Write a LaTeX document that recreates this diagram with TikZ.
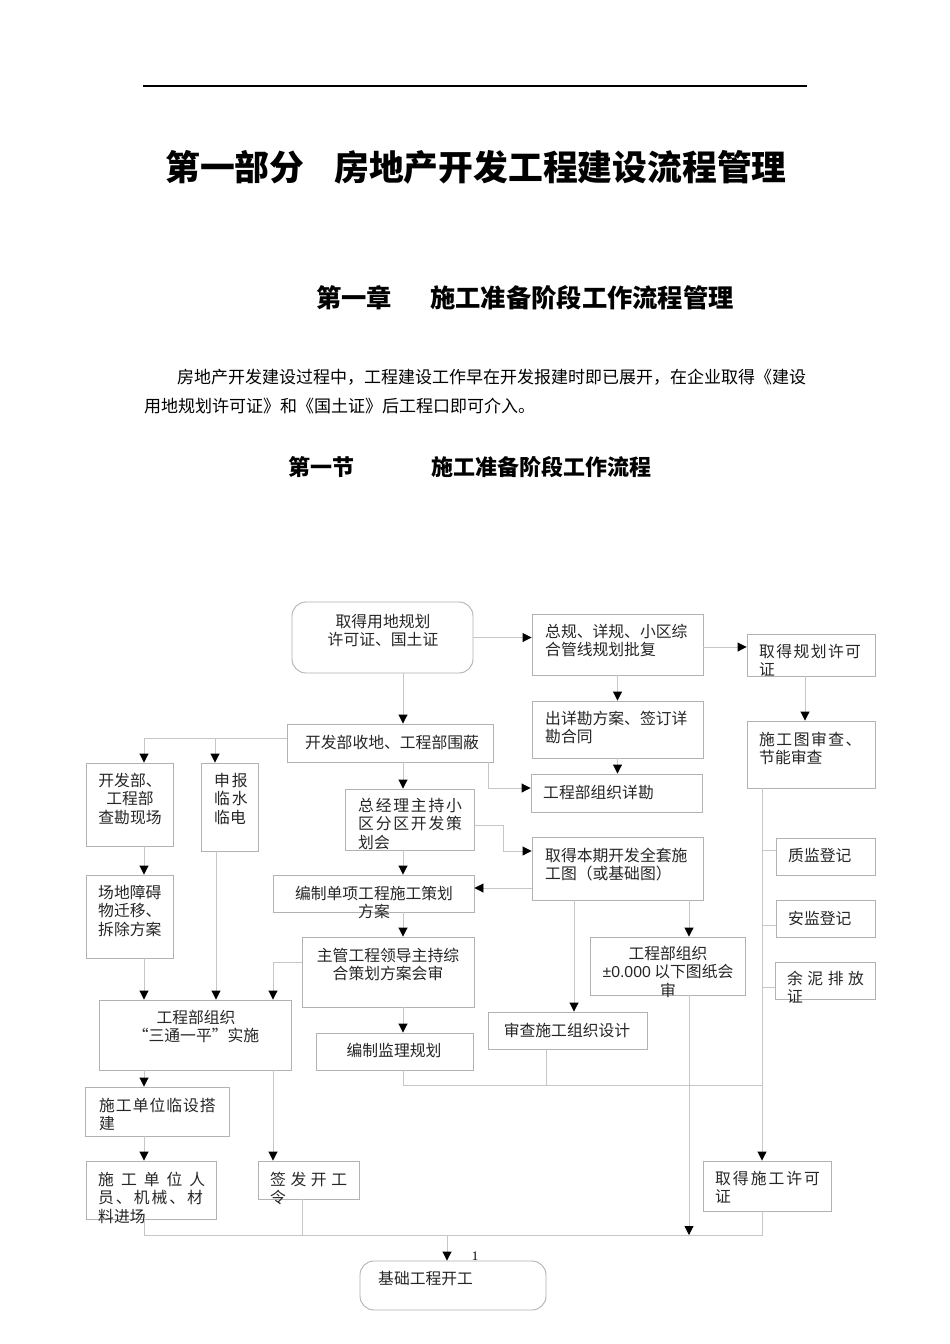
\documentclass[tikz,border=0pt]{standalone}
\usepackage{fontspec}
\setmainfont{Noto Sans CJK SC}
\newfontfamily\serifnum{Liberation Serif}
\newfontfamily\latsans{Liberation Sans}
\usetikzlibrary{arrows.meta,fit}
\newcommand\lsp[2]{\def\lspgap{\hspace*{#1}}\lsprun#2\relax}
\def\lsprun#1{#1\lsplook}
\def\lsplook#1{\ifx#1\relax\let\lspnext\relax\else\def\lspnext{\lspgap\lsprun#1}\fi\lspnext}
\tikzset{
  box/.style={draw=gray!60, line width=0.9pt, inner sep=0pt},
  rbox/.style={box, rounded corners=14pt},
  con/.style={draw=gray!45, line width=0.9pt},
  arr/.style={con, -{Triangle[width=9pt,length=9pt,color=black]}},
  ft/.style={font=\fontsize{15.8}{18.3}\selectfont, text=black!85, inner sep=0pt},
  tl/.style={ft, anchor=north west, align=left},
  tc/.style={ft, anchor=north, align=center},
  head/.style={font=\bfseries, inner sep=0pt, anchor=west},
}
\begin{document}
\begin{tikzpicture}[x=1pt,y=-1pt]
\useasboundingbox (0,0) rectangle (950,1344);
\fill[white] (0,0) rectangle (950,1344);
% header
\draw[line width=1.4pt] (143,86) -- (807,86);
\node[head, font=\bfseries\fontsize{34.8}{40}\selectfont] (title) at (165,167) {第一部分\hspace{30pt}房地产开发工程建设流程管理};
\node[head, font=\bfseries\fontsize{25.3}{30}\selectfont] (ch1) at (316,298) {第一章};
\node[head, font=\bfseries\fontsize{25.3}{30}\selectfont] (ch2) at (430,298) {施工准备阶段工作流程管理};
\node[inner sep=0pt, anchor=west, font=\fontsize{17}{20}\selectfont] (p1) at (177,377) {房地产开发建设过程中，工程建设工作早在开发报建时即已展开，在企业取得《建设};
\node[inner sep=0pt, anchor=west, font=\fontsize{17}{20}\selectfont] (p2) at (144,406) {用地规划许可证》和《国土证》后工程口即可介入。};
\node[head, font=\bfseries\fontsize{22}{26}\selectfont] (s1) at (288,467) {第一节};
\node[head, font=\bfseries\fontsize{22}{26}\selectfont] (s2) at (431,467) {施工准备阶段工作流程};
% boxes
\node[rbox, fit={(292,602) (473,673)}] (A) {};
\node[tc] (tA) at (383,614) {取得用地规划\\许可证、国土证};
\node[box, fit={(532,614) (703,675)}] (B) {};
\node[tl] (tB) at (545,624) {总规、详规、小区综\\合管线规划批复};
\node[box, fit={(747,634) (875,676)}] (C) {};
\node[tl] (tC) at (759,644) {\lsp{1.4pt}{取得规划许可}\\证};
\node[box, fit={(287,724) (493,762)}] (D) {};
\node[ft] (tD) at (392,742) {开发部收地、工程部围蔽};
\node[box, fit={(532,701) (703,758)}] (E) {};
\node[tl] (tE) at (545,711) {出详勘方案、签订详\\勘合同};
\node[box, fit={(747,721) (875,788)}] (F) {};
\node[tl] (tF) at (759,732) {\lsp{1.5pt}{施工图审查、}\\节能审查};
\node[box, fit={(531,774) (702,812)}] (G) {};
\node[ft, anchor=west] (tG) at (543,792) {工程部组织详勘};
\node[box, fit={(86,763) (173,846)}] (H) {};
\node[tc] (tH) at (130,773) {开发部、\\工程部\\查勘现场};
\node[box, fit={(201,763) (258,851)}] (I) {};
\node[tl] (tI) at (214,773) {\lsp{2pt}{申报}\\\lsp{2pt}{临水}\\临电};
\node[box, fit={(345,789) (474,850)}] (J) {};
\node[tl] (tJ) at (358,798) {\lsp{1.8pt}{总经理主持小}\\\lsp{1.8pt}{区分区开发策}\\划会};
\node[box, fit={(532,837) (703,900)}] (K) {};
\node[tl] (tK) at (545,848) {取得本期开发全套施\\工图（或基础图）};
\node[box, fit={(776,838) (875,875)}] (L) {};
\node[ft, anchor=west] (tL) at (788,855) {质监登记};
\node[box, fit={(86,875) (173,958)}] (M) {};
\node[tl] (tM) at (98,885) {场地障碍\\物迁移、\\拆除方案};
\node[box, fit={(273,875) (474,912)}] (N) {};
\node[tc] (tN) at (374,886) {编制单项工程施工策划\\方案};
\node[box, fit={(776,900) (875,937)}] (O) {};
\node[ft, anchor=west] (tO) at (788,918) {安监登记};
\node[box, fit={(590,937) (745,995)}] (P) {};
\node[tc] (tP) at (668,946) {工程部组织\\{\latsans ±0.000} 以下图纸会\\审};
\node[box, fit={(302,937) (474,1007)}] (Q) {};
\node[tc] (tQ) at (388,948) {主管工程领导主持综\\合策划方案会审};
\node[box, fit={(775,962) (875,999)}] (R) {};
\node[tl] (tR) at (787,971) {\lsp{4.5pt}{余泥排放}\\证};
\node[box, fit={(99,1000) (291,1070)}] (S) {};
\node[tc] (tS) at (196,1010) {工程部组织\\“三通一平”实施};
\node[box, fit={(488,1012) (647,1049)}] (T) {};
\node[ft] (tT) at (567,1030) {审查施工组织设计};
\node[box, fit={(316,1033) (473,1070)}] (U) {};
\node[ft] (tU) at (394,1050) {编制监理规划};
\node[box, fit={(85,1087) (229,1136)}] (V) {};
\node[tl] (tV) at (99,1098) {\lsp{1pt}{施工单位临设搭}\\建};
\node[box, fit={(86,1161) (216,1219)}] (W) {};
\node[tl] (tW) at (98,1172) {\lsp{7pt}{施工单位人}\\\lsp{2pt}{员、机械、材}\\料进场};
\node[box, fit={(258,1161) (359,1199)}] (X) {};
\node[tl] (tX) at (270,1172) {\lsp{4.6pt}{签发开工}\\令};
\node[box, fit={(703,1161) (831,1211)}] (Y) {};
\node[tl] (tY) at (715,1171) {\lsp{2pt}{取得施工许可}\\证};
\node[rbox, fit={(360,1261) (546,1310)}] (Z) {};
\node[ft, anchor=west] (tZ) at (378,1279) {基础工程开工};
\node[font=\serifnum\fontsize{13}{13}\selectfont, inner sep=0pt] (pg) at (475,1256) {1};
% connectors
\draw[arr] (A.east) -- (B.west |- A.east);
\draw[arr] (B.east |- 0,647) -- (C.west |- 0,647);
\draw[arr] (A.south -| 403,0) -- (D.north -| 403,0);
\draw[arr] (B.south) -- (E.north -| B.south);
\draw[arr] (E.south) -- (G.north -| E.south);
\draw[arr] (C.south -| 805,0) -- (F.north -| 805,0);
\draw[arr] (D.west |- 0,738) -| (H.north -| 144,0);
\coordinate (dI) at (215,738);
\draw[arr] (dI) -- (I.north -| dI);
\draw[arr] (D.south -| 403,0) -- (J.north -| 403,0);
\draw[arr] (D.south -| 488,0) |- (G.west |- 0,788);
\coordinate (jk) at (503,825);
\draw[arr] (J.east |- jk) -- (jk) |- (K.west |- 0,851);
\draw[arr] (J.south -| 403,0) -- (N.north -| 403,0);
\draw[arr] (K.west |- 0,888) -- (N.east |- 0,888);
\draw[arr] (H.south -| 144,0) -- (M.north -| 144,0);
\draw[arr] (N.south -| 403,0) -- (Q.north -| 403,0);
\draw[arr] (Q.west |- 0,962) -| (S.north -| 273,0);
\draw[arr] (M.south -| 144,0) -- (S.north -| 144,0);
\draw[arr] (I.south -| 216,0) -- (S.north -| 216,0);
\draw[arr] (Q.south -| 403,0) -- (U.north -| 403,0);
\draw[arr] (K.south -| 574,0) -- (T.north -| 574,0);
\draw[arr] (K.south -| 689,0) -- (P.north -| 689,0);
\draw[arr] (F.south -| 762,0) -- (Y.north -| 762,0);
\draw[con] (L.west |- 0,850) -- +(-14,0);
\draw[con] (O.west |- 0,925) -- +(-14,0);
\draw[con] (R.west |- 0,987) -- +(-13,0);
\coordinate (mr) at (762,1085);
\draw[con] (U.south -| 403,0) |- (mr);
\draw[con] (T.south -| 546,0) -- (546,1085);
\coordinate (br) at (762,1235);
\draw[arr] (P.south -| 689,0) -- (689,1235);
\draw[con] (W.south -| 144,0) |- (br) -- (Y.south -| br);
\draw[con] (X.south -| 302,0) -- (302,1235);
\coordinate (bz) at (447,1235);
\draw[arr] (bz) -- (Z.north -| bz);
\draw[arr] (S.south -| 144,0) -- (V.north -| 144,0);
\draw[arr] (V.south -| 144,0) -- (W.north -| 144,0);
\draw[arr] (S.south -| 273,0) -- (X.north -| 273,0);
\end{tikzpicture}
\end{document}
